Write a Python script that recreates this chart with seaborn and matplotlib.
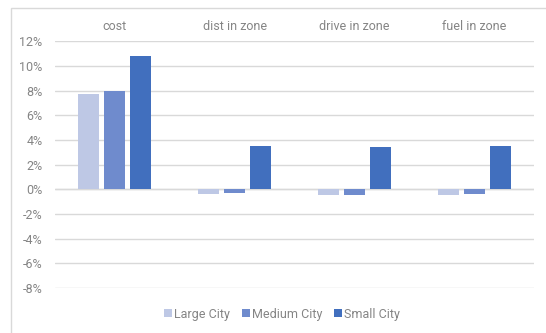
import matplotlib
matplotlib.use("Agg")
import matplotlib.pyplot as plt
import seaborn as sns
import pandas as pd
from matplotlib.patches import Rectangle
from matplotlib.ticker import FuncFormatter, MultipleLocator

categories = ["cost", "dist in zone", "drive in zone", "fuel in zone"]
series_names = ["Large City", "Medium City", "Small City"]
large_city = [7.7, -0.4, -0.5, -0.5]
medium_city = [8.0, -0.3, -0.45, -0.38]
small_city = [10.8, 3.5, 3.45, 3.5]
colors = ["#BEC8E5", "#6F8BCD", "#416FBE"]

rows = []
for name, vals in zip(series_names, [large_city, medium_city, small_city]):
    for c, v in zip(categories, vals):
        rows.append({"category": c, "city": name, "value": v})
df = pd.DataFrame(rows)

sns.set_theme(style="white")
plt.rcParams["font.family"] = ["Roboto", "DejaVu Sans"]
text_color = "#858585"

fig = plt.figure(figsize=(5.46, 3.33), dpi=100)
ax = fig.add_axes([55/546, (333-288)/333, (534-55)/546, (288-41.3)/333])

sns.barplot(data=df, x="category", y="value", hue="city", order=categories,
            hue_order=series_names, palette=colors, width=0.65, gap=0.19,
            ax=ax, saturation=1, edgecolor="none", legend=True)

ax.set_ylim(-8, 12)
ax.set_xlim(-0.5, 3.5)
ax.yaxis.set_major_locator(MultipleLocator(2))
ax.yaxis.set_major_formatter(FuncFormatter(lambda v, p: f"{int(round(v))}%"))
ax.grid(axis="y", color="#D9D9D9", linewidth=1)
ax.set_axisbelow(True)
for s in ax.spines.values():
    s.set_visible(False)
ax.axhline(0, color="#D9D9D9", linewidth=1, zorder=0.5)
ax.xaxis.tick_top()
ax.tick_params(axis="x", length=0, pad=6, labelsize=9, labelcolor=text_color)
ax.tick_params(axis="y", length=0, pad=9, labelsize=9, labelcolor=text_color)
ax.set_xlabel("")
ax.set_ylabel("")

handles, labels = ax.get_legend_handles_labels()
ax.get_legend().remove()
leg = fig.legend(handles, labels, loc="center", bbox_to_anchor=(0.517, 0.057), ncol=3,
                 frameon=False, fontsize=9, handlelength=0.6, handleheight=0.6,
                 handletextpad=0.2, columnspacing=0.95, labelcolor=text_color)

fig.patches.append(Rectangle((11/546, -0.1), 1.2, (333-8)/333 + 0.1, transform=fig.transFigure,
                             fill=False, edgecolor="#D9D9D9", linewidth=1, figure=fig))

fig.savefig("out.png", dpi=100)
